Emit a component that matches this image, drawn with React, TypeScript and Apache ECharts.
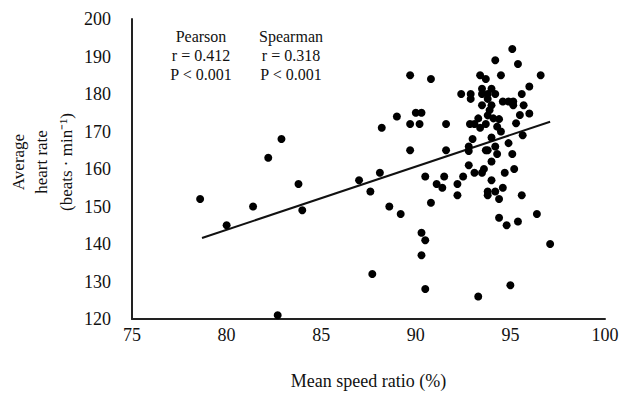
import React, { useEffect, useRef } from "react";
import * as echarts from "echarts";

const speedRatio = [
  95.1, 94.2, 95.4, 93.4, 94.5, 93.7, 96.6, 96.0, 89.7, 90.8,
  92.4, 92.9, 92.9, 93.5, 94.0, 93.5, 93.8, 94.2, 93.8, 93.5,
  94.0, 94.6, 94.9, 95.15, 95.15, 95.6, 95.7, 96.0, 95.5, 95.3,
  93.9, 93.8, 93.3, 93.1, 93.4, 93.7, 94.4, 94.3, 94.5, 94.1,
  92.86, 91.6, 89.7, 90.2, 90.0, 90.3, 89.0, 88.2, 93.0, 94.0,
  95.65, 89.7, 91.6, 92.8, 92.8, 93.7, 93.8, 94.2, 94.3, 94.9,
  95.1, 94.0, 92.8, 93.6, 93.5, 93.1, 95.2, 94.7, 92.5, 92.2,
  92.2, 91.5, 90.5, 91.1, 91.4, 94.0, 93.8, 94.2, 93.8, 94.6,
  94.4, 95.6, 88.1, 87.0, 87.6, 88.6, 89.2, 90.8, 94.4, 94.8,
  95.4, 96.4, 97.1, 90.3, 90.5, 90.3, 90.5, 93.3, 95.0, 87.7,
  82.7, 78.6, 80.0, 81.4, 82.2, 82.9, 83.8, 84.0,
];

const heartRate = [
  192, 189, 188, 185, 185, 184, 185, 182, 185, 184,
  180, 180, 178.7, 181.4, 181.4, 180, 180, 180, 178.7, 177,
  177, 178, 178, 178, 177, 180, 177, 174.8, 174.4, 172.2,
  175.7, 174.3, 173.5, 172, 171, 172, 173.3, 171.3, 170, 173.5,
  172, 172, 172, 172, 175, 175, 174, 171, 168, 168.4,
  169, 165, 165, 166, 164.8, 165, 165, 166, 164, 166.9,
  164, 162, 161, 160, 159, 159, 160, 159, 158, 156,
  153, 158, 158, 156, 155, 157, 154, 154, 153, 155,
  152, 153, 159, 157, 154, 150, 148, 151, 147, 145,
  146, 148, 140, 143, 141, 137, 128, 126, 129, 132,
  121, 152, 145, 150, 163, 168, 156, 149,
];

const trendX = [78.7, 97.1];
const trendY = [141.6, 172.6];

const statHeaders = ["Pearson", "Spearman"];
const statR = ["r = 0.412", "r = 0.318"];
const statP = ["P < 0.001", "P < 0.001"];

const yNameLines = ["Average", "heart rate", "(beats \u00B7 min\u207B\u00B9)"];

const FONT = "'Times New Roman', 'Liberation Serif', serif";

export default function App() {
  const ref = useRef<HTMLDivElement>(null);

  useEffect(() => {
    if (!ref.current) return;
    const chart = echarts.init(ref.current, undefined, { renderer: "svg" });

    const points = speedRatio.map((x, i) => [x, heartRate[i]]);
    const trend = trendX.map((x, i) => [x, trendY[i]]);

    const statCols = [201, 291];
    const statRows = [36, 55, 74];
    const statTexts: any[] = [];
    statCols.forEach((cx, c) => {
      [statHeaders[c], statR[c], statP[c]].forEach((t, r) => {
        statTexts.push({
          type: "text",
          x: cx,
          y: statRows[r],
          style: {
            text: t,
            fontSize: 16,
            fontFamily: FONT,
            fill: "#111",
            align: "center",
            verticalAlign: "middle",
          },
        });
      });
    });

    const yNameX = [18, 41, 66];
    const yNameTexts = yNameLines.map((t, i) => ({
      type: "text",
      x: yNameX[i],
      y: 162,
      rotation: Math.PI / 2,
      style: {
        text: t,
        fontSize: 17,
        fontFamily: FONT,
        fill: "#111",
        align: "center",
        verticalAlign: "middle",
      },
    }));

    chart.setOption({
      animation: false,
      backgroundColor: "#fff",
      grid: { left: 132, right: 28, top: 19, bottom: 70 },
      xAxis: {
        type: "value",
        min: 75,
        max: 100,
        interval: 5,
        name: "Mean speed ratio (%)",
        nameLocation: "middle",
        nameGap: 53,
        nameTextStyle: { fontSize: 18, fontFamily: FONT, color: "#111" },
        axisLine: { show: true, lineStyle: { color: "#222", width: 2 } },
        axisTick: { show: false },
        splitLine: { show: false },
        axisLabel: { fontSize: 18, fontFamily: FONT, color: "#111", margin: 7 },
      },
      yAxis: {
        type: "value",
        min: 120,
        max: 200,
        interval: 10,
        axisLine: { show: true, lineStyle: { color: "#222", width: 2 } },
        axisTick: { show: false },
        splitLine: { show: false },
        axisLabel: { fontSize: 18, fontFamily: FONT, color: "#111", margin: 21 },
      },
      graphic: [...statTexts, ...yNameTexts],
      series: [
        {
          type: "scatter",
          data: points,
          symbol: "circle",
          symbolSize: 8,
          itemStyle: { color: "#000", opacity: 1 },
          z: 3,
        },
        {
          type: "line",
          data: trend,
          symbol: "none",
          lineStyle: { color: "#111", width: 2 },
          z: 2,
        },
      ],
    });

    return () => chart.dispose();
  }, []);

  return (
    <div
      ref={ref}
      style={{ position: "fixed", left: 0, top: 0, width: 633, height: 395 }}
    />
  );
}
